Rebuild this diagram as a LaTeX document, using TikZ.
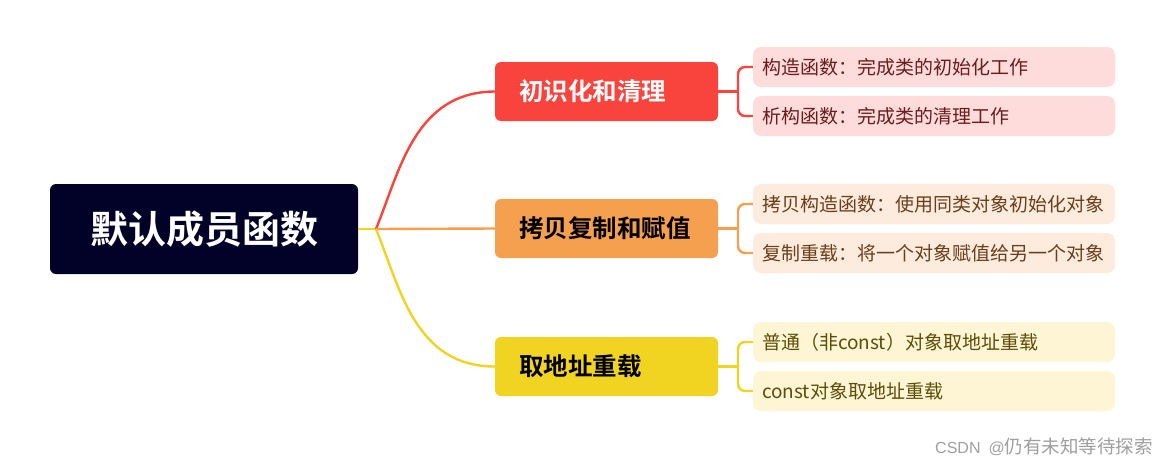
\documentclass[tikz,border=0pt]{standalone}
\usepackage{fontspec}
\setmainfont{Noto Sans CJK SC}
\newfontfamily\cjkb{Noto Sans CJK SC Bold}
\newfontfamily\wm{Liberation Sans}
\definecolor{rootc}{HTML}{020228}
\definecolor{redc}{HTML}{F9443E}
\definecolor{orc}{HTML}{F5A04E}
\definecolor{yelc}{HTML}{F1D322}
\definecolor{redl}{HTML}{FDDCDB}
\definecolor{orl}{HTML}{FDEBDD}
\definecolor{yell}{HTML}{FDF5D3}
\definecolor{redt}{HTML}{6A1C1C}
\definecolor{ort}{HTML}{6A3E1A}
\definecolor{yelt}{HTML}{5E4C08}
\begin{document}
\begin{tikzpicture}[x=1pt,y=-1pt,
  rootbox/.style={fill=rootc,rounded corners=6pt,minimum width=308pt,minimum height=90pt,inner sep=0pt,text=white,font=\cjkb\fontsize{38}{40}\selectfont},
  branchbox/.style={rounded corners=6pt,text width=175pt,inner xsep=24pt,inner ysep=0pt,align=left,minimum height=59pt,font=\cjkb\fontsize{24.5}{26}\selectfont},
  leafbox/.style={rounded corners=8pt,text width=344pt,inner xsep=9pt,inner ysep=0pt,align=left,minimum height=40pt,font=\fontsize{19}{21}\selectfont},
  conn/.style={line width=2.4pt}]
\useasboundingbox[fill=white] (0,0) rectangle (1167,466);
% nodes
\node[rootbox] (root) at (204,229) {默认成员函数};
\node[branchbox,fill=redc,text=white] (b1) at (606.5,91.5) {初识化和清理};
\node[branchbox,fill=orc,text=black] (b2) at (606.5,228.5) {拷贝复制和赋值};
\node[branchbox,fill=yelc,text=black] (b3) at (606.5,366.5) {取地址重载};
\node[leafbox,fill=redl,text=redt] (l1) at (934,67) {构造函数：完成类的初始化工作};
\node[leafbox,fill=redl,text=redt] (l2) at (934,116) {析构函数：完成类的清理工作};
\node[leafbox,fill=orl,text=ort] (l3) at (934,204) {拷贝构造函数：使用同类对象初始化对象};
\node[leafbox,fill=orl,text=ort] (l4) at (934,253) {复制重载：将一个对象赋值给另一个对象};
\node[leafbox,fill=yell,text=yelt] (l5) at (934,342) {普通（非const）对象取地址重载};
\node[leafbox,fill=yell,text=yelt] (l6) at (934,391) {const对象取地址重载};
% connectors
\coordinate (hub) at (376,229);
\draw[conn,yelc] (root.east) -- (hub);
\draw[conn,redc] (hub) .. controls (400,170) and (415,92) .. (b1.west);
\draw[conn,orc] (hub) -- (b2.west);
\draw[conn,yelc] (hub) .. controls (400,288) and (415,366.5) .. (b3.west);
\coordinate (k1) at (738,91.5);
\coordinate (k2) at (738,228.5);
\coordinate (k3) at (738,366.5);
\draw[conn,redc] (b1.east) -- (k1);
\draw[conn,redc,rounded corners=7pt] (l1.west) -| (k1) |- (l2.west);
\draw[conn,orc] (b2.east) -- (k2);
\draw[conn,orc,rounded corners=7pt] (l3.west) -| (k2) |- (l4.west);
\draw[conn,yelc] (b3.east) -- (k3);
\draw[conn,yelc,rounded corners=7pt] (l5.west) -| (k3) |- (l6.west);
\node[anchor=east,text=gray!75,inner sep=0pt] (wmk) at (1153,447) {{\wm\fontsize{16}{18}\selectfont CSDN\hspace{8pt}@}{\fontsize{18.5}{20}\selectfont 仍有未知等待探索}};
\end{tikzpicture}
\end{document}
